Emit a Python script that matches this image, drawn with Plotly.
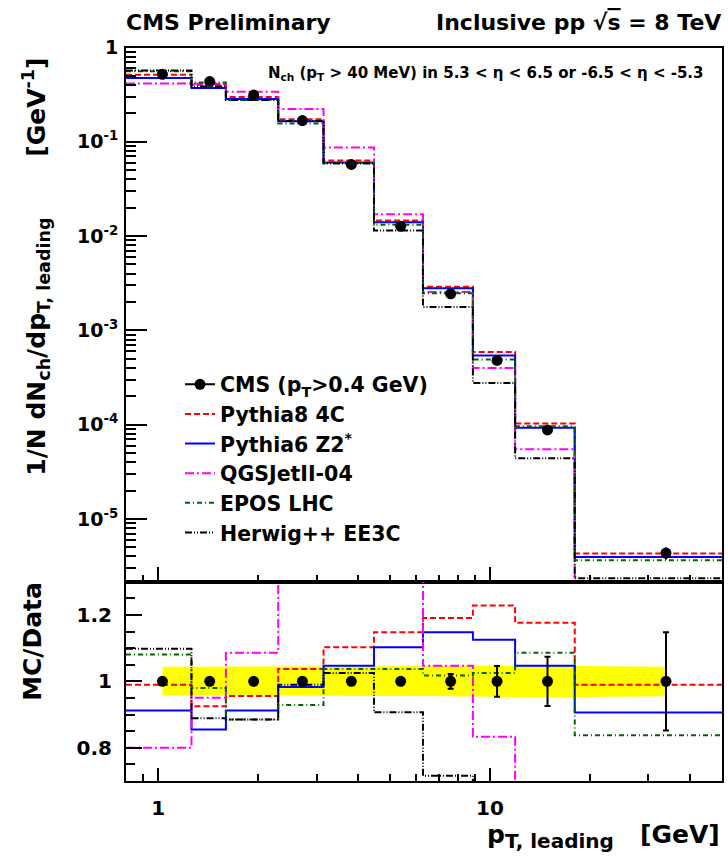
import plotly.graph_objects as go

# ---------------- data ----------------
x_edges = [0.8, 1.26, 1.6, 2.3, 3.15, 4.47, 6.28, 8.88, 11.9, 18.0, 50]
x_data = [1.03, 1.43, 1.94, 2.72, 3.82, 5.38, 7.61, 10.5, 14.9, 33.9]

cms = [0.52, 0.435, 0.313, 0.168, 0.0576, 0.0127, 0.00244, 4.8e-4, 8.8e-5, 4.35e-6]
cms_err = [0.002, 0.002, 0.0013, 0.0008, 0.0003, 0.0001, 5.4e-5, 2.2e-5, 6.5e-6, 6.4e-7]

pythia8 = [0.515, 0.402, 0.299, 0.174, 0.0635, 0.0146, 0.00291, 5.9e-4, 1.03e-4, 4.3e-6]
pythia6 = [0.474, 0.372, 0.285, 0.165, 0.0603, 0.0140, 0.0028, 5.4e-4, 9.3e-5, 3.94e-6]
qgsjet = [0.416, 0.414, 0.340, 0.223, 0.087, 0.017, 0.00256, 4.0e-4, 5.5e-5, 1.0e-6]
epos = [0.562, 0.426, 0.277, 0.156, 0.0597, 0.0132, 0.00248, 4.92e-4, 9.6e-5, 3.65e-6]
herwig = [0.571, 0.387, 0.277, 0.166, 0.059, 0.0115, 0.00177, 2.76e-4, 4.4e-5, 2.35e-6]

r_cms = [1, 1, 1, 1, 1, 1, 1, 1, 1, 1]
r_cms_err = [0.004, 0.004, 0.004, 0.005, 0.006, 0.008, 0.022, 0.046, 0.074, 0.148]
band_hi = [1.044, 1.044, 1.044, 1.045, 1.045, 1.045, 1.046, 1.047, 1.047, 1.044]
band_lo = [0.958, 0.958, 0.958, 0.957, 0.957, 0.956, 0.955, 0.953, 0.952, 0.955]

r_pythia8 = [0.99, 0.925, 0.956, 1.037, 1.103, 1.148, 1.191, 1.228, 1.176, 0.99]
r_pythia6 = [0.912, 0.855, 0.912, 0.983, 1.047, 1.103, 1.148, 1.125, 1.047, 0.906]
r_qgsjet = [0.80, 0.951, 1.086, 1.33, 1.51, 1.34, 1.047, 0.833, 0.625, 0.23]
r_epos = [1.081, 0.98, 0.885, 0.929, 1.037, 1.037, 1.018, 1.025, 1.086, 0.838]
r_herwig = [1.098, 0.889, 0.885, 0.99, 1.025, 0.907, 0.716, 0.575, 0.5, 0.5]

y_tickvals = [1, 1e-1, 1e-2, 1e-3, 1e-4, 1e-5]
y_ticktext = ["1", "10<sup>-1</sup>", "10<sup>-2</sup>", "10<sup>-3</sup>", "10<sup>-4</sup>", "10<sup>-5</sup>"]
r_tickvals = [0.8, 1.0, 1.2]
r_ticktext = ["0.8", "1", "1.2"]
x_tickvals = [1, 10]
x_ticktext = ["1", "10"]

models = [
    ("Pythia8 4C", pythia8, r_pythia8, "#ff0000", "6px,3px"),
    ("Pythia6 Z2<sup>*</sup>", pythia6, r_pythia6, "#0000ff", "solid"),
    ("QGSJetII-04", qgsjet, r_qgsjet, "#ff00ff", "9px,3px,2px,3px"),
    ("EPOS LHC", epos, r_epos, "#006600", "5px,3px,1px,3px"),
    ("Herwig++ EE3C", herwig, r_herwig, "#000000", "7px,2px,1px,2px,1px,2px"),
]

W, H = 728, 865
def px(xp):
    return xp / W
def py(yp):
    return 1 - yp / H

FONT = "DejaVu Sans"
fig = go.Figure()

# yellow band in ratio
fig.add_trace(go.Scatter(x=x_data, y=band_lo, mode="lines", line=dict(width=0, color="yellow"),
                         xaxis="x2", yaxis="y2", showlegend=False, hoverinfo="skip"))
fig.add_trace(go.Scatter(x=x_data, y=band_hi, mode="lines", line=dict(width=0, color="yellow"),
                         fill="tonexty", fillcolor="#ffff00",
                         xaxis="x2", yaxis="y2", showlegend=False, hoverinfo="skip"))

# legend entry for data
fig.add_trace(go.Scatter(x=[None], y=[None], mode="lines+markers", name="CMS (p<sub>T</sub>>0.4 GeV)",
                         line=dict(color="black", width=2), marker=dict(color="black", size=11),
                         xaxis="x", yaxis="y"))

for name, main, ratio, color, dash in models:
    fig.add_trace(go.Scatter(x=x_edges, y=main + [main[-1]], mode="lines", line_shape="hv",
                             line=dict(color=color, width=2, dash=dash), name=name,
                             xaxis="x", yaxis="y"))
    fig.add_trace(go.Scatter(x=x_edges, y=ratio + [ratio[-1]], mode="lines", line_shape="hv",
                             line=dict(color=color, width=2, dash=dash), name=name, showlegend=False,
                             xaxis="x2", yaxis="y2"))

# data points
fig.add_trace(go.Scatter(x=x_data, y=cms, mode="markers", marker=dict(color="black", size=11),
                         error_y=dict(type="data", array=cms_err, color="black", thickness=2, width=0),
                         showlegend=False, xaxis="x", yaxis="y"))
fig.add_trace(go.Scatter(x=x_data, y=r_cms, mode="markers", marker=dict(color="black", size=11),
                         error_y=dict(type="data", array=r_cms_err, color="black", thickness=2, width=3),
                         showlegend=False, xaxis="x2", yaxis="y2"))

xdom = [px(126), px(722)]
minor_x = [0.9, 2, 3, 4, 5, 6, 7, 8, 9, 20, 30, 40]
minor_y = [m * 10 ** e for e in range(-6, 0) for m in range(2, 10) if m * 10 ** e >= 2.1e-6]

axis_common = dict(showgrid=False, zeroline=False, showline=True, linecolor="black", linewidth=2,
                   mirror=True, ticks="inside", tickcolor="black", tickwidth=1.5)

fig.update_layout(
    width=W, height=H,
    margin=dict(l=0, r=0, t=0, b=0),
    paper_bgcolor="white", plot_bgcolor="white",
    font=dict(family=FONT, size=18, color="black", weight="bold"),
    xaxis=dict(domain=xdom, type="log", range=[-0.0969, 1.699], anchor="y",
               tickvals=x_tickvals, showticklabels=False, ticklen=15,
               minor=dict(tickvals=minor_x, ticklen=7, ticks="inside", tickcolor="black", tickwidth=1.5),
               **axis_common),
    yaxis=dict(domain=[py(578), py(37)], type="log", range=[-5.665, 0], anchor="x",
               tickvals=y_tickvals, ticktext=y_ticktext, ticklen=21,
               tickfont=dict(size=19), ticklabelstandoff=2,
               minor=dict(tickvals=minor_y, ticklen=10, ticks="inside", tickcolor="black", tickwidth=1.5),
               **axis_common),
    xaxis2=dict(domain=xdom, type="log", range=[-0.0969, 1.699], anchor="y2", matches="x",
                tickvals=x_tickvals, ticktext=x_ticktext, ticklen=13, tickfont=dict(size=20),
                ticklabelstandoff=8,
                minor=dict(tickvals=minor_x, ticklen=7, ticks="inside", tickcolor="black", tickwidth=1.5),
                **axis_common),
    yaxis2=dict(domain=[py(780), py(578)], range=[0.7, 1.3], anchor="x2",
                tickvals=r_tickvals, ticktext=r_ticktext, ticklen=16, tickfont=dict(size=20),
                ticklabelstandoff=8,
                minor=dict(tickvals=[0.75, 0.85, 0.9, 0.95, 1.05, 1.1, 1.15, 1.25], ticklen=9,
                           ticks="inside", tickcolor="black", tickwidth=1.5),
                **axis_common),
    legend=dict(x=px(180), y=py(358), xanchor="left", yanchor="top", bgcolor="rgba(0,0,0,0)",
                traceorder="normal", tracegroupgap=0,
                font=dict(size=20.5, family=FONT, color="black", weight="bold")),
    showlegend=True,
)

ann = [
    dict(text="CMS Preliminary", x=px(124), y=py(12), xanchor="left", yanchor="middle", font=dict(size=22)),
    dict(text="Inclusive pp √<span style='text-decoration:overline'>s</span> = 8 TeV", x=px(723), y=py(12),
         xanchor="right", yanchor="middle", font=dict(size=22)),
    dict(text="N<sub>ch</sub> (p<sub>T</sub> > 40 MeV) in 5.3 < η < 6.5 or -6.5 < η < -5.3",
         x=px(706), y=py(63), xanchor="right", yanchor="middle", font=dict(size=15)),
    dict(text="1/N dN<sub>ch</sub>/dp<sub>T, leading</sub>" + "\u00a0" * 7 + "[GeV<sup>-1</sup>]",
         x=px(36), y=py(259), xanchor="center", yanchor="middle", textangle=-90, font=dict(size=25)),
    dict(text="MC/Data", x=px(33), y=py(639), xanchor="center", yanchor="middle", textangle=-90,
         font=dict(size=25)),
    dict(text="p<sub><span style='font-size:20px'>T, leading</span></sub>\u00a0\u00a0\u00a0[GeV]",
         x=px(722), y=py(836), xanchor="right", yanchor="middle", font=dict(size=25)),
]
for a in ann:
    a.update(xref="paper", yref="paper", showarrow=False)
fig.update_layout(annotations=ann)

fig.write_html("out.html", config={"displayModeBar": False},
               post_script="document.body.style.margin='0';document.body.style.padding='0';"
                           "document.body.style.overflow='hidden';"
                           "document.documentElement.style.overflow='hidden';")
